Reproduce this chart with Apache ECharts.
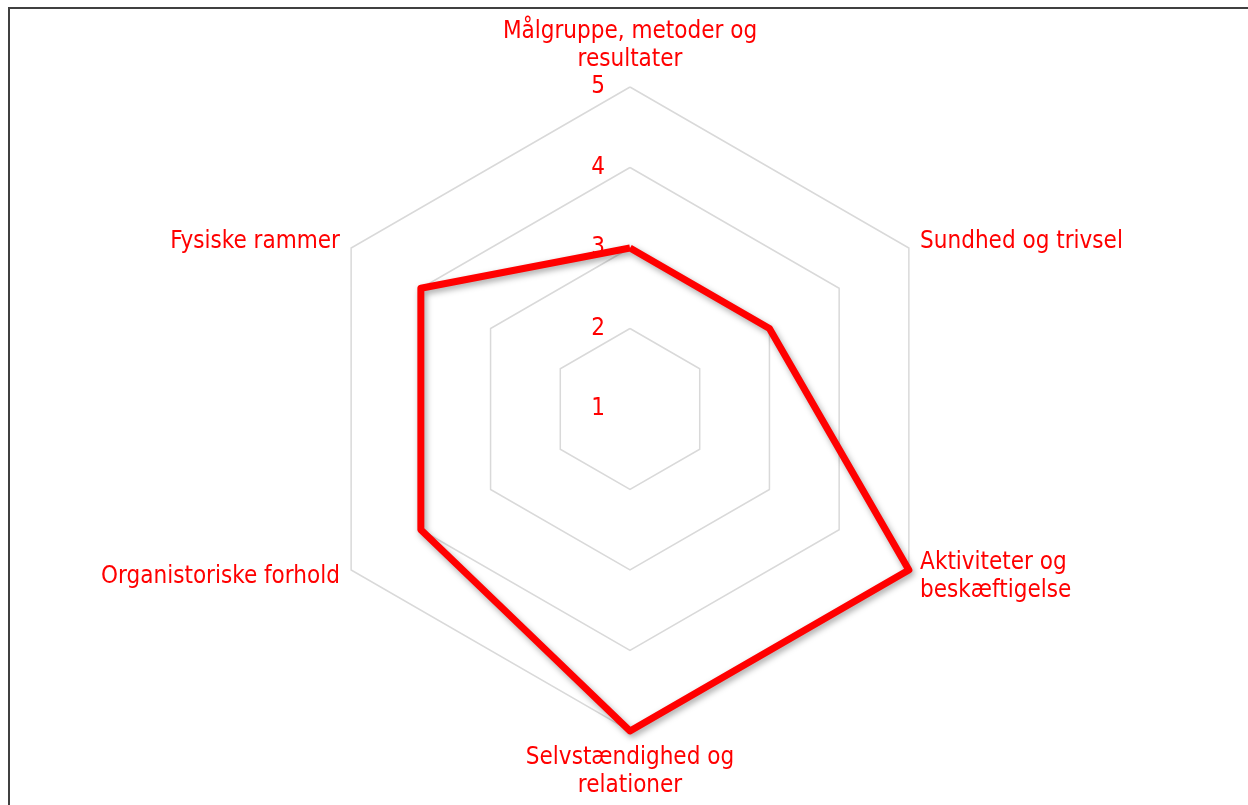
<!DOCTYPE html>
<html>
<head>
<meta charset="utf-8">
<script src="https://cdn.jsdelivr.net/npm/echarts@6/dist/echarts.min.js"></script>
<style>
html,body{margin:0;padding:0;background:#fff;}
#frame{position:absolute;left:8px;top:7px;width:1240px;height:798px;border-top:2px solid #404040;border-left:2px solid #404040;box-sizing:border-box;}
#chart{position:absolute;left:0;top:0;width:1248px;height:805px;}
</style>
</head>
<body>
<div id="frame"></div>
<div id="chart"></div>
<script>
const categories = [
  'Målgruppe, metoder og\nresultater',
  'Sundhed og trivsel',
  'Aktiviteter og\nbeskæftigelse',
  'Selvstændighed og\nrelationer',
  'Organistoriske forhold',
  'Fysiske rammer'
];
const values = [3, 3, 5, 5, 4, 4];
const scaleMin = 1;
const scaleMax = 5;
const tickCount = 4;

// ECharts radar runs counter-clockwise; reorder so categories run clockwise
const order = [0].concat(categories.map((_, i) => i).slice(1).reverse());
const cwCategories = order.map(i => categories[i]);
const cwValues = order.map(i => values[i]);

const FONT = '"DejaVu Sans Condensed", "DejaVu Sans", sans-serif';
const RED = '#ff0000';
const chart = echarts.init(document.getElementById('chart'), null, {renderer: 'canvas'});
const center = [630, 409];
const radius = 322;
chart.setOption({
  animation: false,
  radar: [
    {
      center: center,
      radius: radius,
      startAngle: 90,
      shape: 'polygon',
      splitNumber: tickCount,
      indicator: cwCategories.map(n => ({name: n, min: scaleMin, max: scaleMax})),
      axisName: {color: RED, fontFamily: FONT, fontSize: 24, lineHeight: 28},
      nameGap: 13,
      axisLine: {show: false},
      axisTick: {show: false},
      axisLabel: {show: false},
      splitLine: {lineStyle: {color: '#d9d9d9', width: 1.5}},
      splitArea: {show: false}
    },
    {
      center: center,
      radius: radius,
      startAngle: 90,
      shape: 'polygon',
      splitNumber: tickCount,
      indicator: [{name: '', min: scaleMin, max: scaleMax}],
      axisName: {show: false},
      axisLine: {show: false},
      axisTick: {show: false},
      axisLabel: {show: true, color: RED, fontFamily: FONT, fontSize: 24, margin: 25},
      splitLine: {show: false},
      splitArea: {show: false}
    }
  ],
  series: [{
    type: 'radar',
    radarIndex: 0,
    symbol: 'none',
    lineStyle: {color: RED, width: 7, shadowColor: 'rgba(0,0,0,0.35)', shadowBlur: 6, shadowOffsetX: 2, shadowOffsetY: 3},
    data: [{value: cwValues}]
  }]
});
</script>
</body>
</html>
